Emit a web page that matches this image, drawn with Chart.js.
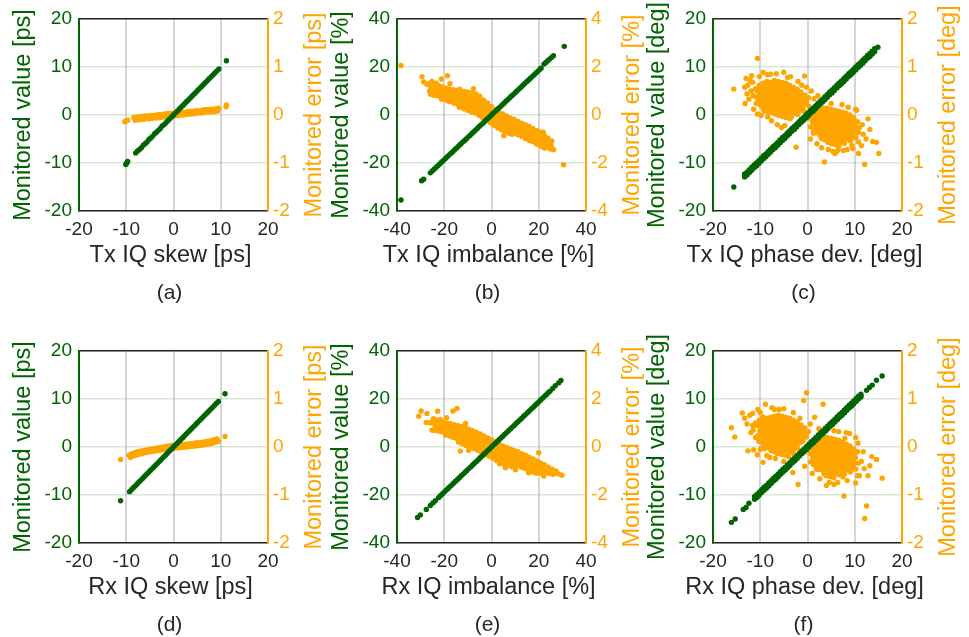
<!DOCTYPE html>
<html>
<head>
<meta charset="utf-8">
<title>IQ impairment monitoring</title>
<script src="https://cdn.jsdelivr.net/npm/chart.js@4.4.1/dist/chart.umd.min.js"></script>
<style>
  html, body { margin: 0; padding: 0; background: #fff; }
  #figure { position: relative; width: 969px; height: 637px; overflow: hidden; }
  #figure canvas { position: absolute; }
  .caption {
    position: absolute; width: 80px; margin-left: -40px; text-align: center;
    font-family: "Liberation Sans", Arial, sans-serif; font-size: 21px; line-height: 24px; color: #262626;
  }
</style>
</head>
<body>
<div id="figure"></div>
<script>
// ---- axis text ----
const captions = ['(a)', '(b)', '(c)', '(d)', '(e)', '(f)'];
const xTitles = ['Tx IQ skew [ps]', 'Tx IQ imbalance [%]', 'Tx IQ phase dev. [deg]',
                 'Rx IQ skew [ps]', 'Rx IQ imbalance [%]', 'Rx IQ phase dev. [deg]'];
const valueTitles = ['Monitored value [ps]', 'Monitored value [%]', 'Monitored value [deg]',
                     'Monitored value [ps]', 'Monitored value [%]', 'Monitored value [deg]'];
const errorTitles = ['Monitored error [ps]', 'Monitored error [%]', 'Monitored error [deg]',
                     'Monitored error [ps]', 'Monitored error [%]', 'Monitored error [deg]'];
// axis limits (x and left axis share them), right axis limits
const valueLimits = [20, 40, 20, 20, 40, 20];
const errorLimits = [2, 4, 2, 2, 4, 2];

// ---- (a) Tx IQ skew ----
const txSkewValue = [
  [-10.1,-10.3],[-9.9,-10.0],[-9.7,-9.7],
  [-8.0,-7.9],[-7.6,-7.5],[-7.2,-7.2],[-6.8,-6.8],[-6.4,-6.3],[-6.0,-6.0],[-5.6,-5.6],[-5.2,-5.1],
  [-4.8,-4.8],[-4.4,-4.4],[-4.0,-3.9],[-3.6,-3.6],[-3.2,-3.2],[-2.8,-2.8],[-2.4,-2.3],[-2.0,-2.0],
  [-1.6,-1.6],[-1.2,-1.2],[-0.8,-0.8],[-0.4,-0.4],[0.0,0.0],[0.4,0.4],[0.8,0.8],[1.2,1.2],[1.6,1.6],
  [2.0,2.0],[2.4,2.4],[2.8,2.8],[3.2,3.2],[3.6,3.6],[4.0,4.0],[4.4,4.4],[4.8,4.8],[5.2,5.2],[5.6,5.6],
  [6.0,6.0],[6.4,6.4],[6.8,6.8],[7.2,7.2],[7.6,7.6],[8.0,8.0],[8.4,8.4],[8.8,8.8],[9.2,9.2],[9.6,9.6],
  [11.2,11.3]
];
const txSkewError = [
  [-10.3,-0.14],[-10.0,-0.12],[-9.7,-0.11],
  [-8.4,-0.05],[-7.8,-0.04],[-7.2,-0.04],[-6.6,-0.03],[-6.0,-0.02],[-5.4,-0.02],[-4.8,-0.01],[-4.2,-0.01],
  [-3.6,0.0],[-3.0,0.01],[-2.4,0.01],[-1.8,0.02],[-1.2,0.03],[-0.6,0.03],[0.0,0.04],[0.6,0.05],[1.2,0.05],
  [1.8,0.06],[2.4,0.06],[3.0,0.07],[3.6,0.08],[4.2,0.08],[4.8,0.09],[5.4,0.09],[6.0,0.1],[6.6,0.11],
  [7.2,0.11],[7.8,0.12],[8.4,0.12],[9.0,0.13],[9.6,0.14],
  [-8.1,-0.11],[-7.5,-0.1],[-6.9,-0.1],[-6.3,-0.09],[-5.7,-0.08],[-5.1,-0.08],[-4.5,-0.07],[-3.9,-0.06],
  [-3.3,-0.06],[-2.7,-0.05],[-2.1,-0.04],[-1.5,-0.04],[-0.9,-0.03],[-0.3,-0.02],[0.3,-0.02],[0.9,-0.01],
  [1.5,0.0],[2.1,0.0],[2.7,0.01],[3.3,0.02],[3.9,0.02],[4.5,0.03],[5.1,0.04],[5.7,0.04],[6.3,0.05],
  [6.9,0.06],[7.5,0.06],[8.1,0.07],[8.7,0.07],[9.3,0.08],
  [11.1,0.17],[11.2,0.21]
];

// ---- (b) Tx IQ imbalance ----
const txImbValue = [
  [-38.3,-35.4],[-29.6,-27.4],[-28.7,-26.8],
  [-25.9,-24.1],[-25.1,-23.3],[-24.3,-22.6],[-23.5,-21.9],[-22.7,-21.1],[-21.9,-20.4],[-21.1,-19.6],
  [-20.3,-18.9],[-19.5,-18.1],[-18.7,-17.4],[-17.9,-16.6],[-17.1,-15.9],[-16.3,-15.2],[-15.5,-14.4],
  [-14.7,-13.7],[-13.9,-12.9],[-13.1,-12.2],[-12.3,-11.4],[-11.5,-10.7],[-10.7,-10.0],[-9.9,-9.2],
  [-9.1,-8.5],[-8.3,-7.7],[-7.5,-7.0],[-6.7,-6.2],[-5.9,-5.5],[-5.1,-4.7],[-4.3,-4.0],[-3.5,-3.3],
  [-2.7,-2.5],[-1.9,-1.8],[-1.1,-1.0],[-0.3,-0.3],[0.5,0.5],[1.3,1.2],[2.1,2.0],[2.9,2.7],[3.7,3.4],
  [4.5,4.2],[5.3,4.9],[6.1,5.7],[6.9,6.4],[7.7,7.2],[8.5,7.9],[9.3,8.6],[10.1,9.4],[10.9,10.1],
  [11.7,10.9],[12.5,11.6],[13.3,12.4],[14.1,13.1],[14.9,13.9],[15.7,14.6],[16.5,15.3],[17.3,16.1],
  [18.1,16.8],[18.9,17.6],[19.7,18.3],[20.5,19.1],[21.0,19.5],
  [22.2,21.2],[23.0,21.9],[23.8,22.6],[24.6,23.3],[25.4,24.0],[26.2,24.7],
  [30.8,28.6]
];
const txImbError = [
  [-38.3,2.06],[-29.4,1.6],[-28.7,1.38],[-27.4,1.28],[-25.2,1.4],[-21.2,1.5],[-18.6,1.64],[-17.6,1.3],
  [-23.4,1.32],[30.5,-2.07],[26.3,-1.45],[25.0,-1.38],[24.2,-1.1],[5.2,-0.86],[8.7,-0.8],[-7.6,1.1],
  [-13.5,1.08],[21.9,-0.72],
  [-26.3,1.3],[-25.7,1.15],[-26.2,1.0],[-25.8,0.86],
  [-24.1,1.25],[-24.8,1.1],[-24.2,0.95],[-24.6,0.82],
  [-22.5,1.22],[-23.1,1.08],[-22.4,0.94],[-23.0,0.8],
  [-21.0,1.18],[-21.6,1.04],[-20.9,0.9],[-21.5,0.76],[-21.1,0.66],
  [-19.3,1.12],[-19.9,0.98],[-19.4,0.85],[-19.8,0.72],[-19.2,0.62],
  [-17.8,1.08],[-18.3,0.95],[-17.6,0.82],[-18.4,0.68],[-17.9,0.56],
  [-16.1,1.05],[-16.7,0.92],[-16.2,0.78],[-16.6,0.64],[-16.0,0.5],
  [-14.5,1.02],[-15.1,0.88],[-14.6,0.74],[-15.0,0.6],[-14.4,0.46],
  [-13.0,1.0],[-13.5,0.85],[-12.9,0.7],[-13.4,0.56],[-13.1,0.42],[-13.6,0.32],
  [-11.3,0.98],[-11.9,0.82],[-11.4,0.66],[-11.8,0.52],[-11.2,0.38],[-11.7,0.26],
  [-9.7,0.95],[-10.3,0.8],[-9.8,0.64],[-10.2,0.48],[-9.6,0.34],[-10.1,0.2],
  [-8.1,0.92],[-8.7,0.76],[-8.2,0.6],[-8.6,0.44],[-8.0,0.28],[-8.5,0.12],
  [-6.5,0.88],[-7.1,0.72],[-6.6,0.56],[-7.0,0.4],[-6.4,0.24],[-6.9,0.08],
  [-4.9,0.78],[-5.5,0.62],[-5.0,0.46],[-5.4,0.3],[-4.8,0.14],[-5.3,-0.02],
  [-3.3,0.62],[-3.9,0.48],[-3.4,0.32],[-3.8,0.16],[-3.2,0.02],[-3.7,-0.12],
  [-1.7,0.5],[-2.3,0.36],[-1.8,0.2],[-2.2,0.06],[-1.6,-0.08],[-2.1,-0.2],
  [-0.1,0.36],[-0.7,0.22],[-0.2,0.08],[-0.6,-0.06],[0.0,-0.2],[-0.5,-0.32],
  [1.5,0.22],[0.9,0.08],[1.4,-0.06],[1.0,-0.2],[1.6,-0.34],[1.1,-0.44],
  [3.1,0.12],[2.5,-0.02],[3.0,-0.16],[2.6,-0.3],[3.2,-0.44],[2.7,-0.54],
  [4.7,0.04],[4.1,-0.1],[4.6,-0.24],[4.2,-0.38],[4.8,-0.52],[4.3,-0.62],
  [6.3,-0.04],[5.7,-0.18],[6.2,-0.32],[5.8,-0.46],[6.4,-0.6],[5.9,-0.7],
  [7.9,-0.12],[7.3,-0.26],[7.8,-0.4],[7.4,-0.54],[8.0,-0.68],[7.5,-0.76],
  [9.5,-0.18],[8.9,-0.32],[9.4,-0.46],[9.0,-0.6],[9.6,-0.74],
  [11.1,-0.26],[10.5,-0.4],[11.0,-0.54],[10.6,-0.68],[11.2,-0.82],
  [12.7,-0.34],[12.1,-0.48],[12.6,-0.62],[12.2,-0.76],[12.8,-0.9],
  [14.3,-0.4],[13.7,-0.54],[14.2,-0.68],[13.8,-0.82],[14.4,-0.98],
  [15.9,-0.48],[15.3,-0.62],[15.8,-0.76],[15.4,-0.9],[16.0,-1.06],
  [17.5,-0.56],[16.9,-0.7],[17.4,-0.84],[17.0,-0.98],[17.6,-1.12],
  [19.1,-0.64],[18.5,-0.78],[19.0,-0.92],[18.6,-1.06],[19.2,-1.22],
  [20.7,-0.72],[20.1,-0.86],[20.6,-1.0],[20.2,-1.14],[20.8,-1.3],
  [22.3,-0.84],[21.7,-0.98],[22.2,-1.12],[21.8,-1.26],[22.4,-1.38],
  [23.9,-0.96],[23.3,-1.1],[23.8,-1.24],[23.4,-1.36],
  [25.5,-1.08],[24.9,-1.2],[25.4,-1.32],[25.0,-1.42]
];

// ---- (c) Tx IQ phase deviation ----
const txPhaseValue = [
  [-15.6,-15.0],
  [-13.3,-12.3],[-12.8,-12.5],[-12.3,-11.4],[-11.8,-11.5],[-11.3,-10.4],[-10.8,-10.6],[-10.3,-9.5],
  [-9.8,-9.6],[-9.3,-8.5],[-8.8,-8.7],[-8.3,-7.6],[-7.8,-7.7],[-7.3,-6.6],[-6.8,-6.8],[-6.3,-5.7],
  [-5.8,-5.8],[-5.3,-4.7],[-4.8,-4.9],[-4.3,-3.8],[-3.8,-3.9],[-3.3,-2.8],[-2.8,-3.0],[-2.3,-1.9],
  [-1.8,-2.0],[-1.3,-0.9],[-0.8,-1.1],[-0.3,0.0],[0.2,-0.1],[0.7,1.0],[1.2,0.8],[1.7,1.9],[2.2,1.8],
  [2.7,2.9],[3.2,2.7],[3.7,3.8],[4.2,3.7],[4.7,4.8],[5.2,4.6],[5.7,5.7],[6.2,5.6],[6.7,6.7],[7.2,6.5],
  [7.7,7.6],[8.2,7.5],[8.7,8.6],[9.2,8.4],[9.7,9.5],[10.2,9.4],[10.7,10.5],[11.2,10.3],[11.7,11.4],
  [12.2,11.3],[12.7,12.4],[13.2,12.2],[13.7,13.3],[14.2,13.2],[14.9,14.1],
  [-13.3,-12.6],[-12.8,-12.2],[-12.3,-11.7],[-11.8,-11.2],[-11.3,-10.7],[-10.8,-10.3],[-10.3,-9.8],
  [-9.8,-9.3],[-9.3,-8.8],[-8.8,-8.4],[-8.3,-7.9],[-7.8,-7.4],[-7.3,-6.9],[-6.8,-6.5],[-6.3,-6.0],
  [-5.8,-5.5],[-5.3,-5.0],[-4.8,-4.6],[-4.3,-4.1],[-3.8,-3.6],[-3.3,-3.1],[-2.8,-2.7],[-2.3,-2.2],
  [-1.8,-1.7],[-1.3,-1.2],[-0.8,-0.8],[-0.3,-0.3],[0.2,0.2],[0.7,0.7],[1.2,1.1],[1.7,1.6],[2.2,2.1],
  [2.7,2.6],[3.2,3.0],[3.7,3.5],[4.2,4.0],[4.7,4.5],[5.2,4.9],[5.7,5.4],[6.2,5.9],[6.7,6.4],[7.2,6.8],
  [7.7,7.3],[8.2,7.8],[8.7,8.3],[9.2,8.7],[9.7,9.2],[10.2,9.7],[10.7,10.2],[11.2,10.6],[11.7,11.1],
  [12.2,11.6],[12.7,12.1],[13.2,12.5],[13.7,13.0],[14.2,13.5],
  [-13.3,-12.9],[-12.8,-11.9],[-12.3,-12.0],[-11.8,-10.9],[-11.3,-11.0],[-10.8,-10.0],[-10.3,-10.1],
  [-9.8,-9.0],[-9.3,-9.1],[-8.8,-8.1],[-8.3,-8.2],[-7.8,-7.1],[-7.3,-7.2],[-6.8,-6.2],[-6.3,-6.3],
  [-5.8,-5.2],[-5.3,-5.3],[-4.8,-4.3],[-4.3,-4.4],[-3.8,-3.3],[-3.3,-3.4],[-2.8,-2.4],[-2.3,-2.5],
  [-1.8,-1.4],[-1.3,-1.5],[-0.8,-0.5],[-0.3,-0.6],[0.2,0.5],[0.7,0.4],[1.2,1.4],[1.7,1.3],[2.2,2.4],
  [2.7,2.3],[3.2,3.3],[3.7,3.2],[4.2,4.3],[4.7,4.2],[5.2,5.2],[5.7,5.1],[6.2,6.2],[6.7,6.1],[7.2,7.1],
  [7.7,7.0],[8.2,8.1],[8.7,8.0],[9.2,9.0],[9.7,8.9],[10.2,10.0],[10.7,9.9],[11.2,10.9],[11.7,10.8],
  [12.2,11.9],[12.7,11.8],[13.2,12.8],[13.7,12.7],[14.2,13.8]
];
const txPhaseError = [
  [-10.6,1.18],[-15.6,0.54],[-13.0,0.76],[-13.3,0.58],[-13.2,0.24],[-12.1,0.72],[-11.6,0.68],[-10.8,0.37],
  [-9.4,0.89],[-8.5,0.84],[-5.0,0.89],[-3.6,0.8],[-0.6,0.81],[-1.2,0.62],[-9.8,-0.01],[-8.4,-0.04],
  [-5.5,-0.26],[-2.4,-0.67],[-11.9,0.5],[-12.4,0.33],[1.4,0.34],[2.2,0.4],[3.6,-0.98],[5.4,-0.76],
  [6.2,-0.76],[8.4,-0.72],[9.4,-0.64],[11.4,-0.64],[11.0,-0.26],[12.1,-1.03],[15.1,-0.8],[14.6,-0.57],
  [13.8,-0.55],[12.8,-0.08],[11.8,-0.4],[10.8,-0.8],[3.0,-0.68],[0.6,-0.5],[7.3,0.22],[10.4,0.1],[6.5,-0.72],
  [-12.6,0.62],[-11.8,0.82],[-10.2,0.8],[-7.8,0.85],[-6.6,0.86],[-4.2,0.78],[-2.0,0.7],[-0.2,0.58],
  [0.8,0.5],[-12.8,0.44],[-11.4,0.12],[-10.6,0.02],[-7.6,-0.12],[-6.4,-0.2],[-4.8,-0.22],[-3.2,-0.3],
  [2.0,-0.6],[4.4,-0.72],[5.8,-0.8],[7.6,-0.74],[9.6,-0.7],[10.8,-0.56],[11.6,-0.2],[10.2,0.12],
  [8.6,0.16],[5.0,0.24],[3.0,0.3],[12.4,-0.5],[13.2,-0.3],
  [-11.0,0.55],[-11.5,0.4],[-10.85,0.24],
  [-10.2,0.62],[-10.7,0.5],[-10.05,0.38],[-10.55,0.26],
  [-9.4,0.66],[-9.9,0.57],[-9.25,0.48],[-9.75,0.39],[-9.5,0.3],[-9.95,0.21],[-9.35,0.13],
  [-8.6,0.7],[-9.1,0.61],[-8.45,0.52],[-8.95,0.43],[-8.7,0.34],[-9.15,0.25],[-8.55,0.16],[-9.0,0.08],
  [-7.8,0.68],[-8.3,0.59],[-7.65,0.5],[-8.15,0.41],[-7.9,0.32],[-8.35,0.23],[-7.75,0.14],[-8.2,0.06],
  [-7.0,0.72],[-7.5,0.63],[-6.85,0.54],[-7.35,0.45],[-7.1,0.36],[-7.55,0.27],[-6.95,0.18],[-7.4,0.09],[-6.9,0.02],
  [-6.2,0.7],[-6.7,0.61],[-6.05,0.52],[-6.55,0.43],[-6.3,0.34],[-6.75,0.25],[-6.15,0.16],[-6.6,0.07],[-6.1,-0.01],
  [-5.4,0.68],[-5.9,0.59],[-5.25,0.5],[-5.75,0.41],[-5.5,0.32],[-5.95,0.23],[-5.35,0.14],[-5.8,0.05],[-5.3,-0.03],
  [-4.6,0.66],[-5.1,0.57],[-4.45,0.48],[-4.95,0.39],[-4.7,0.3],[-5.15,0.21],[-4.55,0.12],[-5.0,0.03],[-4.5,-0.05],
  [-3.8,0.62],[-4.3,0.53],[-3.65,0.44],[-4.15,0.35],[-3.9,0.26],[-4.35,0.17],[-3.75,0.08],[-4.2,-0.01],[-3.7,-0.08],
  [-3.0,0.58],[-3.5,0.49],[-2.85,0.4],[-3.35,0.31],[-3.1,0.22],[-3.55,0.13],[-2.95,0.04],[-3.4,-0.04],
  [-2.2,0.54],[-2.7,0.45],[-2.05,0.36],[-2.55,0.27],[-2.3,0.18],[-2.75,0.09],[-2.15,0.01],
  [-1.4,0.48],[-1.9,0.39],[-1.25,0.3],[-1.75,0.21],[-1.5,0.12],[-1.95,0.04],
  [-0.6,0.42],[-1.1,0.33],[-0.45,0.24],[-0.95,0.15],[-0.7,0.07],
  [0.2,0.36],[-0.3,0.27],[0.35,0.18],
  // upper lobe core
  [-10.0,0.6],[-9.9,0.51],[-10.1,0.42],[-10.0,0.33],[-9.9,0.24],
  [-9.2,0.65],[-9.1,0.56],[-9.3,0.47],[-9.2,0.38],[-9.1,0.29],[-9.3,0.2],[-9.2,0.11],
  [-8.4,0.65],[-8.3,0.56],[-8.5,0.47],[-8.4,0.38],[-8.3,0.29],[-8.5,0.2],[-8.4,0.11],
  [-7.6,0.68],[-7.5,0.59],[-7.7,0.5],[-7.6,0.41],[-7.5,0.32],[-7.7,0.23],[-7.6,0.14],[-7.5,0.05],
  [-6.8,0.66],[-6.7,0.57],[-6.9,0.48],[-6.8,0.39],[-6.7,0.3],[-6.9,0.21],[-6.8,0.12],[-6.7,0.03],
  [-6.0,0.64],[-5.9,0.55],[-6.1,0.46],[-6.0,0.37],[-5.9,0.28],[-6.1,0.19],[-6.0,0.1],[-5.9,0.01],
  [-5.2,0.62],[-5.1,0.53],[-5.3,0.44],[-5.2,0.35],[-5.1,0.26],[-5.3,0.17],[-5.2,0.08],[-5.1,-0.01],
  [-4.4,0.6],[-4.3,0.51],[-4.5,0.42],[-4.4,0.33],[-4.3,0.24],[-4.5,0.15],[-4.4,0.06],[-4.3,-0.03],
  [-3.6,0.56],[-3.5,0.47],[-3.7,0.38],[-3.6,0.29],[-3.5,0.2],[-3.7,0.11],[-3.6,0.02],
  [-2.8,0.52],[-2.7,0.43],[-2.9,0.34],[-2.8,0.25],[-2.7,0.16],[-2.9,0.07],
  [-2.0,0.46],[-1.9,0.37],[-2.1,0.28],[-2.0,0.19],[-1.9,0.1],
  [-1.2,0.4],[-1.1,0.31],[-1.3,0.22],[-1.2,0.13],
  [-0.4,0.32],[-0.3,0.23],
  [1.0,0.02],[0.5,-0.07],[1.15,-0.16],[0.65,-0.25],
  [1.8,0.06],[1.3,-0.03],[1.95,-0.12],[1.45,-0.21],[1.7,-0.3],[1.25,-0.38],
  [2.6,0.12],[2.1,0.03],[2.75,-0.06],[2.25,-0.15],[2.5,-0.24],[2.05,-0.33],[2.65,-0.42],
  [3.4,0.14],[2.9,0.05],[3.55,-0.04],[3.05,-0.13],[3.3,-0.22],[2.85,-0.31],[3.45,-0.4],[3.0,-0.49],
  [4.2,0.14],[3.7,0.05],[4.35,-0.04],[3.85,-0.13],[4.1,-0.22],[3.65,-0.31],[4.25,-0.4],[3.8,-0.49],[4.3,-0.57],
  [5.0,0.12],[4.5,0.03],[5.15,-0.06],[4.65,-0.15],[4.9,-0.24],[4.45,-0.33],[5.05,-0.42],[4.6,-0.51],[5.1,-0.6],
  [5.8,0.1],[5.3,0.01],[5.95,-0.08],[5.45,-0.17],[5.7,-0.26],[5.25,-0.35],[5.85,-0.44],[5.4,-0.53],[5.9,-0.62],
  [6.6,0.08],[6.1,-0.01],[6.75,-0.1],[6.25,-0.19],[6.5,-0.28],[6.05,-0.37],[6.65,-0.46],[6.2,-0.55],[6.7,-0.63],
  [7.4,0.06],[6.9,-0.03],[7.55,-0.12],[7.05,-0.21],[7.3,-0.3],[6.85,-0.39],[7.45,-0.48],[7.0,-0.57],
  [8.2,0.04],[7.7,-0.05],[8.35,-0.14],[7.85,-0.23],[8.1,-0.32],[7.65,-0.41],[8.25,-0.5],[7.8,-0.59],
  [9.0,0.0],[8.5,-0.09],[9.15,-0.18],[8.65,-0.27],[8.9,-0.36],[8.45,-0.45],[9.05,-0.54],
  [9.8,-0.06],[9.3,-0.15],[9.95,-0.24],[9.45,-0.33],[9.7,-0.42],[9.25,-0.5],
  [10.6,-0.14],[10.1,-0.25],[10.75,-0.36],[10.25,-0.47],
  // lower lobe core
  [1.2,0.04],[1.3,-0.05],[1.1,-0.14],[1.2,-0.23],[1.3,-0.32],
  [2.0,0.08],[2.1,-0.01],[1.9,-0.1],[2.0,-0.19],[2.1,-0.28],[1.9,-0.37],
  [2.8,0.1],[2.9,0.01],[2.7,-0.08],[2.8,-0.17],[2.9,-0.26],[2.7,-0.35],[2.8,-0.44],
  [3.6,0.1],[3.7,0.01],[3.5,-0.08],[3.6,-0.17],[3.7,-0.26],[3.5,-0.35],[3.6,-0.44],[3.7,-0.52],
  [4.4,0.09],[4.5,0.0],[4.3,-0.09],[4.4,-0.18],[4.5,-0.27],[4.3,-0.36],[4.4,-0.45],[4.5,-0.54],
  [5.2,0.07],[5.3,-0.02],[5.1,-0.11],[5.2,-0.2],[5.3,-0.29],[5.1,-0.38],[5.2,-0.47],[5.3,-0.56],
  [6.0,0.05],[6.1,-0.04],[5.9,-0.13],[6.0,-0.22],[6.1,-0.31],[5.9,-0.4],[6.0,-0.49],[6.1,-0.58],
  [6.8,0.03],[6.9,-0.06],[6.7,-0.15],[6.8,-0.24],[6.9,-0.33],[6.7,-0.42],[6.8,-0.51],[6.9,-0.58],
  [7.6,0.01],[7.7,-0.08],[7.5,-0.17],[7.6,-0.26],[7.7,-0.35],[7.5,-0.44],[7.6,-0.53],
  [8.4,-0.03],[8.5,-0.12],[8.3,-0.21],[8.4,-0.3],[8.5,-0.39],[8.3,-0.48],
  [9.2,-0.08],[9.3,-0.17],[9.1,-0.26],[9.2,-0.35],[9.3,-0.44],
  [10.0,-0.14],[10.1,-0.23],[9.9,-0.32],[10.0,-0.41]
];

// ---- (d) Rx IQ skew ----
const rxSkewValue = [
  [-11.2,-11.2],
  [-9.3,-9.3],[-8.9,-8.9],[-8.5,-8.5],[-8.1,-8.1],[-7.7,-7.7],[-7.3,-7.3],[-6.9,-6.9],[-6.5,-6.5],
  [-6.1,-6.1],[-5.7,-5.7],[-5.3,-5.3],[-4.9,-4.9],[-4.5,-4.5],[-4.1,-4.1],[-3.7,-3.7],[-3.3,-3.3],
  [-2.9,-2.9],[-2.5,-2.5],[-2.1,-2.1],[-1.7,-1.7],[-1.3,-1.3],[-0.9,-0.9],[-0.5,-0.5],[-0.1,-0.1],
  [0.3,0.3],[0.7,0.7],[1.1,1.1],[1.5,1.5],[1.9,1.9],[2.3,2.3],[2.7,2.7],[3.1,3.1],[3.5,3.5],[3.9,3.9],
  [4.3,4.3],[4.7,4.7],[5.1,5.1],[5.5,5.5],[5.9,5.9],[6.3,6.3],[6.7,6.7],[7.1,7.1],[7.5,7.5],[7.9,7.9],
  [8.3,8.3],[8.7,8.7],[9.1,9.1],[9.5,9.5],
  [10.9,11.1]
];
const rxSkewError = [
  [-11.2,-0.26],
  [-9.4,-0.17],[-8.8,-0.14],[-8.2,-0.12],[-7.6,-0.1],[-7.0,-0.09],[-6.4,-0.07],[-5.8,-0.06],[-5.2,-0.05],
  [-4.6,-0.04],[-4.0,-0.03],[-3.4,-0.02],[-2.8,-0.01],[-2.2,0.0],[-1.6,0.01],[-1.0,0.02],[-0.4,0.03],
  [0.2,0.03],[0.8,0.04],[1.4,0.05],[2.0,0.055],[2.6,0.06],[3.2,0.07],[3.8,0.07],[4.4,0.08],[5.0,0.09],
  [5.6,0.09],[6.2,0.1],[6.8,0.11],[7.4,0.12],[8.0,0.135],[8.6,0.15],[9.2,0.17],
  [-9.1,-0.22],[-8.5,-0.19],[-7.9,-0.17],[-7.3,-0.15],[-6.7,-0.14],[-6.1,-0.12],[-5.5,-0.11],[-4.9,-0.1],
  [-4.3,-0.09],[-3.7,-0.08],[-3.1,-0.07],[-2.5,-0.06],[-1.9,-0.05],[-1.3,-0.04],[-0.7,-0.035],[-0.1,-0.03],
  [0.5,-0.02],[1.1,-0.015],[1.7,-0.01],[2.3,0.0],[2.9,0.0],[3.5,0.01],[4.1,0.015],[4.7,0.02],[5.3,0.03],
  [5.9,0.035],[6.5,0.045],[7.1,0.055],[7.7,0.065],[8.3,0.08],[8.9,0.1],[9.5,0.12],
  [10.9,0.22]
];

// ---- (e) Rx IQ imbalance ----
const rxImbValue = [
  [-31.3,-29.4],[-30.1,-28.3],[-27.6,-26.0],[-25.9,-24.4],[-24.8,-23.3],[-23.8,-22.4],
  [-22.4,-21.1],[-21.6,-20.3],[-20.8,-19.6],[-20.0,-18.8],[-19.2,-18.0],[-18.4,-17.3],[-17.6,-16.5],
  [-16.8,-15.8],[-16.0,-15.0],[-15.2,-14.3],[-14.4,-13.5],[-13.6,-12.8],[-12.8,-12.0],[-12.0,-11.3],
  [-11.2,-10.5],[-10.4,-9.8],[-9.6,-9.0],[-8.8,-8.3],[-8.0,-7.5],[-7.2,-6.8],[-6.4,-6.0],[-5.6,-5.3],
  [-4.8,-4.5],[-4.0,-3.8],[-3.2,-3.0],[-2.4,-2.3],[-1.6,-1.5],[-0.8,-0.8],[0.0,0.0],[0.8,0.8],
  [1.6,1.5],[2.4,2.3],[3.2,3.0],[4.0,3.8],[4.8,4.5],[5.6,5.3],[6.4,6.0],[7.2,6.8],[8.0,7.5],[8.8,8.3],
  [9.6,9.0],[10.4,9.8],[11.2,10.5],[12.0,11.3],[12.8,12.0],[13.6,12.8],[14.4,13.5],[15.2,14.3],
  [16.0,15.0],[16.8,15.8],[17.6,16.5],[18.4,17.3],[19.2,18.0],[20.0,18.8],[20.8,19.6],[21.6,20.3],
  [22.4,21.1],[23.2,21.8],[24.0,22.6],[24.8,23.3],
  [25.9,24.4],[27.0,25.5],[28.4,26.7],[29.4,27.7]
];
const rxImbError = [
  [-30.8,1.28],[-29.8,1.5],[-27.3,1.4],[-22.8,1.49],[-16.3,1.5],[-14.6,1.61],[-25.9,1.01],[-27.6,1.02],
  [-25.2,0.71],[-21.7,1.15],[-13.2,-0.17],[-9.7,-0.14],[5.9,-0.86],[15.7,-1.07],[22.1,-1.21],[20.0,-0.24],
  [28.4,-1.12],[29.8,-1.18],[10.2,-0.95],[3.4,-0.7],[-24.6,1.18],[-19.0,1.22],[-11.0,0.98],
  [-24.0,1.15],[-25.0,1.0],[-23.7,0.85],[-24.7,0.7],
  [-22.4,1.1],[-23.4,0.96],[-22.1,0.82],[-23.1,0.68],
  [-20.8,1.05],[-21.8,0.92],[-20.5,0.78],[-21.5,0.64],
  [-19.2,1.0],[-20.2,0.88],[-18.9,0.74],[-19.9,0.6],[-19.4,0.5],
  [-17.6,0.98],[-18.6,0.84],[-17.3,0.7],[-18.3,0.56],[-17.8,0.46],
  [-16.0,0.94],[-17.0,0.8],[-15.7,0.66],[-16.7,0.52],[-16.2,0.4],
  [-14.4,0.9],[-15.4,0.76],[-14.1,0.62],[-15.1,0.48],[-14.6,0.34],
  [-12.8,0.86],[-13.8,0.72],[-12.5,0.58],[-13.5,0.44],[-13.0,0.3],[-13.9,0.2],
  [-11.2,0.8],[-12.2,0.66],[-10.9,0.52],[-11.9,0.38],[-11.4,0.24],[-12.3,0.14],
  [-9.6,0.74],[-10.6,0.6],[-9.3,0.46],[-10.3,0.32],[-9.8,0.18],[-10.7,0.06],
  [-8.0,0.68],[-9.0,0.54],[-7.7,0.4],[-8.7,0.26],[-8.2,0.12],[-9.1,0.0],
  [-6.4,0.62],[-7.4,0.48],[-6.1,0.34],[-7.1,0.2],[-6.6,0.06],[-7.5,-0.06],
  [-4.8,0.54],[-5.8,0.4],[-4.5,0.26],[-5.5,0.12],[-5.0,-0.02],[-5.9,-0.14],
  [-3.2,0.46],[-4.2,0.32],[-2.9,0.18],[-3.9,0.04],[-3.4,-0.1],[-4.3,-0.22],
  [-1.6,0.38],[-2.6,0.24],[-1.3,0.1],[-2.3,-0.04],[-1.8,-0.18],[-2.7,-0.3],
  [0.0,0.3],[-1.0,0.16],[0.3,0.02],[-0.7,-0.12],[-0.2,-0.26],[-1.1,-0.38],
  [1.6,0.2],[0.6,0.06],[1.9,-0.08],[0.9,-0.22],[1.4,-0.36],[0.5,-0.46],
  [3.2,0.12],[2.2,-0.02],[3.5,-0.16],[2.5,-0.3],[3.0,-0.44],[2.1,-0.56],
  [4.8,0.04],[3.8,-0.1],[5.1,-0.24],[4.1,-0.38],[4.6,-0.52],[3.7,-0.64],
  [6.4,-0.02],[5.4,-0.16],[6.7,-0.3],[5.7,-0.44],[6.2,-0.58],[5.3,-0.7],
  [8.0,-0.08],[7.0,-0.22],[8.3,-0.36],[7.3,-0.5],[7.8,-0.64],[6.9,-0.76],
  [9.6,-0.14],[8.6,-0.28],[9.9,-0.42],[8.9,-0.56],[9.4,-0.7],[8.5,-0.82],
  [11.2,-0.2],[10.2,-0.34],[11.5,-0.48],[10.5,-0.62],[11.0,-0.76],[10.1,-0.88],
  [12.8,-0.28],[11.8,-0.42],[13.1,-0.56],[12.1,-0.7],[12.6,-0.84],
  [14.4,-0.34],[13.4,-0.48],[14.7,-0.62],[13.7,-0.76],[14.2,-0.9],
  [16.0,-0.42],[15.0,-0.56],[16.3,-0.7],[15.3,-0.84],[15.8,-0.98],
  [17.6,-0.5],[16.6,-0.64],[17.9,-0.78],[16.9,-0.92],[17.4,-1.04],
  [19.2,-0.58],[18.2,-0.72],[19.5,-0.86],[18.5,-1.0],[19.0,-1.1],
  [20.8,-0.66],[19.8,-0.8],[21.1,-0.94],[20.1,-1.08],
  [22.4,-0.74],[21.4,-0.88],[22.7,-1.02],[21.7,-1.14],
  [24.0,-0.84],[23.0,-0.98],[24.3,-1.1],
  [25.6,-0.92],[24.6,-1.04],[25.9,-1.14],
  [27.2,-1.0],[26.4,-1.12]
];

// ---- (f) Rx IQ phase deviation ----
const rxPhaseValue = [
  [-16.1,-15.7],[-15.3,-15.0],[-13.6,-13.0],[-13.0,-12.6],[-12.4,-11.7],
  [-11.2,-10.3],[-10.7,-10.5],[-10.2,-9.4],[-9.7,-9.5],[-9.2,-8.4],[-8.7,-8.6],[-8.2,-7.5],[-7.7,-7.6],
  [-7.2,-6.5],[-6.7,-6.7],[-6.2,-5.6],[-5.7,-5.7],[-5.2,-4.6],[-4.7,-4.8],[-4.2,-3.7],[-3.7,-3.8],
  [-3.2,-2.7],[-2.7,-2.9],[-2.2,-1.8],[-1.7,-1.9],[-1.2,-0.8],[-0.7,-1.0],[-0.2,0.1],[0.3,0.0],
  [0.8,1.1],[1.3,0.9],[1.8,2.0],[2.3,1.9],[2.8,3.0],[3.3,2.8],[3.8,3.9],[4.3,3.8],[4.8,4.9],[5.3,4.7],
  [5.8,5.8],[6.3,5.7],[6.8,6.8],[7.3,6.6],[7.8,7.7],[8.3,7.6],[8.8,8.7],[9.3,8.5],[9.8,9.6],[10.3,9.5],
  [10.8,10.6],[11.3,10.4],
  [-11.2,-10.6],[-10.7,-10.2],[-10.2,-9.7],[-9.7,-9.2],[-9.2,-8.7],[-8.7,-8.3],[-8.2,-7.8],[-7.7,-7.3],
  [-7.2,-6.8],[-6.7,-6.4],[-6.2,-5.9],[-5.7,-5.4],[-5.2,-4.9],[-4.7,-4.5],[-4.2,-4.0],[-3.7,-3.5],
  [-3.2,-3.0],[-2.7,-2.6],[-2.2,-2.1],[-1.7,-1.6],[-1.2,-1.1],[-0.7,-0.7],[-0.2,-0.2],[0.3,0.3],
  [0.8,0.8],[1.3,1.2],[1.8,1.7],[2.3,2.2],[2.8,2.7],[3.3,3.1],[3.8,3.6],[4.3,4.1],[4.8,4.6],[5.3,5.0],
  [5.8,5.5],[6.3,6.0],[6.8,6.5],[7.3,6.9],[7.8,7.4],[8.3,7.9],[8.8,8.4],[9.3,8.8],[9.8,9.3],[10.3,9.8],
  [10.8,10.3],[11.3,10.7],
  [-11.2,-10.9],[-10.7,-9.9],[-10.2,-10.0],[-9.7,-8.9],[-9.2,-9.0],[-8.7,-8.0],[-8.2,-8.1],[-7.7,-7.0],
  [-7.2,-7.1],[-6.7,-6.1],[-6.2,-6.2],[-5.7,-5.1],[-5.2,-5.2],[-4.7,-4.2],[-4.2,-4.3],[-3.7,-3.2],
  [-3.2,-3.3],[-2.7,-2.3],[-2.2,-2.4],[-1.7,-1.3],[-1.2,-1.4],[-0.7,-0.4],[-0.2,-0.5],[0.3,0.6],
  [0.8,0.5],[1.3,1.5],[1.8,1.4],[2.3,2.5],[2.8,2.4],[3.3,3.4],[3.8,3.3],[4.3,4.4],[4.8,4.3],[5.3,5.3],
  [5.8,5.2],[6.3,6.3],[6.8,6.2],[7.3,7.2],[7.8,7.1],[8.3,8.2],[8.8,8.1],[9.3,9.1],[9.8,9.0],[10.3,10.1],
  [10.8,10.0],[11.3,11.0],
  [12.5,11.8],[13.1,12.4],[13.7,12.9],[14.6,13.9],[15.8,14.8]
];
const rxPhaseError = [
  [-16.1,0.4],[-15.4,0.21],[-13.8,0.71],[-13.3,0.6],[-12.2,0.66],[-12.6,-0.08],[-8.9,0.89],[-10.5,0.78],
  [-11.6,0.45],[-7.5,0.82],[-6.0,0.78],[-0.2,1.13],[-0.8,0.97],[3.3,0.89],[1.5,0.62],[-9.4,-0.32],
  [-8.0,-0.22],[-3.1,-0.53],[-2.0,-0.78],[7.7,-1.02],[12.5,-1.23],[12.1,-1.49],[15.8,-0.65],[14.6,-0.26],
  [13.2,-0.39],[10.7,0.08],[8.9,0.28],[7.9,0.18],[11.0,-0.6],[10.2,-0.75],[5.6,-0.78],[4.0,-0.8],
  [6.6,0.32],[-0.6,-0.4],[12.0,-0.45],[-11.0,0.2],[-10.0,-0.05],
  [-12.8,0.48],[-12.0,0.3],[-11.6,0.7],[-10.0,0.72],[-7.0,0.78],[-5.0,0.8],[-3.0,0.72],[-1.6,0.6],
  [0.6,0.48],[-11.4,-0.06],[-10.6,-0.16],[-8.6,-0.18],[-6.8,-0.24],[-5.0,-0.3],[-3.6,-0.32],[1.0,-0.55],
  [2.6,-0.66],[4.6,-0.74],[6.4,-0.74],[8.4,-0.7],[10.6,-0.6],[11.4,-0.3],[11.8,-0.1],[10.2,0.2],
  [8.2,0.3],[5.6,0.34],[4.0,0.36],[2.4,0.38],[12.8,-0.6],[13.6,-0.2],
  [-11.0,0.5],[-11.5,0.35],[-10.85,0.2],
  [-10.2,0.56],[-10.7,0.45],[-10.05,0.34],[-10.55,0.23],[-10.3,0.12],
  [-9.4,0.62],[-9.9,0.52],[-9.25,0.42],[-9.75,0.32],[-9.5,0.22],[-9.95,0.12],[-9.35,0.02],
  [-8.6,0.6],[-9.1,0.51],[-8.45,0.42],[-8.95,0.33],[-8.7,0.24],[-9.15,0.15],[-8.55,0.06],[-9.0,-0.03],
  [-7.8,0.62],[-8.3,0.53],[-7.65,0.44],[-8.15,0.35],[-7.9,0.26],[-8.35,0.17],[-7.75,0.08],[-8.2,-0.01],[-7.7,-0.08],
  [-7.0,0.64],[-7.5,0.55],[-6.85,0.46],[-7.35,0.37],[-7.1,0.28],[-7.55,0.19],[-6.95,0.1],[-7.4,0.01],[-6.9,-0.08],
  [-6.2,0.66],[-6.7,0.57],[-6.05,0.48],[-6.55,0.39],[-6.3,0.3],[-6.75,0.21],[-6.15,0.12],[-6.6,0.03],[-6.1,-0.06],[-6.45,-0.13],
  [-5.4,0.64],[-5.9,0.55],[-5.25,0.46],[-5.75,0.37],[-5.5,0.28],[-5.95,0.19],[-5.35,0.1],[-5.8,0.01],[-5.3,-0.08],[-5.65,-0.15],
  [-4.6,0.62],[-5.1,0.53],[-4.45,0.44],[-4.95,0.35],[-4.7,0.26],[-5.15,0.17],[-4.55,0.08],[-5.0,-0.01],[-4.5,-0.1],[-4.85,-0.17],
  [-3.8,0.6],[-4.3,0.51],[-3.65,0.42],[-4.15,0.33],[-3.9,0.24],[-4.35,0.15],[-3.75,0.06],[-4.2,-0.03],[-3.7,-0.12],[-4.05,-0.2],
  [-3.0,0.56],[-3.5,0.47],[-2.85,0.38],[-3.35,0.29],[-3.1,0.2],[-3.55,0.11],[-2.95,0.02],[-3.4,-0.07],[-2.9,-0.14],
  [-2.2,0.52],[-2.7,0.43],[-2.05,0.34],[-2.55,0.25],[-2.3,0.16],[-2.75,0.07],[-2.15,-0.02],
  [-1.4,0.46],[-1.9,0.37],[-1.25,0.28],[-1.75,0.19],[-1.5,0.1],
  [-0.6,0.4],[-1.1,0.31],[-0.45,0.22],[-0.95,0.13],
  [0.2,0.32],[-0.3,0.23],
  // upper lobe core
  [-10.0,0.52],[-9.9,0.42],[-10.1,0.32],[-10.0,0.22],[-9.9,0.12],
  [-9.2,0.57],[-9.1,0.47],[-9.3,0.37],[-9.2,0.27],[-9.1,0.17],[-9.3,0.07],
  [-8.4,0.57],[-8.3,0.48],[-8.5,0.39],[-8.4,0.3],[-8.3,0.21],[-8.5,0.12],[-8.4,0.03],
  [-7.6,0.59],[-7.5,0.5],[-7.7,0.41],[-7.6,0.32],[-7.5,0.23],[-7.7,0.14],[-7.6,0.05],[-7.5,-0.04],
  [-6.8,0.61],[-6.7,0.52],[-6.9,0.43],[-6.8,0.34],[-6.7,0.25],[-6.9,0.16],[-6.8,0.07],[-6.7,-0.02],[-6.9,-0.1],
  [-6.0,0.61],[-5.9,0.52],[-6.1,0.43],[-6.0,0.34],[-5.9,0.25],[-6.1,0.16],[-6.0,0.07],[-5.9,-0.02],[-6.1,-0.1],
  [-5.2,0.59],[-5.1,0.5],[-5.3,0.41],[-5.2,0.32],[-5.1,0.23],[-5.3,0.14],[-5.2,0.05],[-5.1,-0.04],[-5.3,-0.12],
  [-4.4,0.57],[-4.3,0.48],[-4.5,0.39],[-4.4,0.3],[-4.3,0.21],[-4.5,0.12],[-4.4,0.03],[-4.3,-0.06],[-4.5,-0.14],
  [-3.6,0.54],[-3.5,0.45],[-3.7,0.36],[-3.6,0.27],[-3.5,0.18],[-3.7,0.09],[-3.6,0.0],[-3.5,-0.09],
  [-2.8,0.5],[-2.7,0.41],[-2.9,0.32],[-2.8,0.23],[-2.7,0.14],[-2.9,0.05],[-2.8,-0.04],
  [-2.0,0.44],[-1.9,0.35],[-2.1,0.26],[-2.0,0.17],[-1.9,0.08],
  [-1.2,0.38],[-1.1,0.29],[-1.3,0.2],[-1.2,0.11],
  [-0.4,0.3],[-0.3,0.21],
  [1.0,-0.04],[0.5,-0.13],[1.15,-0.22],[0.65,-0.31],
  [1.8,0.08],[1.3,-0.01],[1.95,-0.1],[1.45,-0.19],[1.7,-0.28],[1.25,-0.37],[1.85,-0.46],
  [2.6,0.16],[2.1,0.07],[2.75,-0.02],[2.25,-0.11],[2.5,-0.2],[2.05,-0.29],[2.65,-0.38],[2.2,-0.47],
  [3.4,0.2],[2.9,0.11],[3.55,0.02],[3.05,-0.07],[3.3,-0.16],[2.85,-0.25],[3.45,-0.34],[3.0,-0.43],[3.5,-0.52],
  [4.2,0.2],[3.7,0.11],[4.35,0.02],[3.85,-0.07],[4.1,-0.16],[3.65,-0.25],[4.25,-0.34],[3.8,-0.43],[4.3,-0.52],[3.95,-0.6],
  [5.0,0.18],[4.5,0.09],[5.15,0.0],[4.65,-0.09],[4.9,-0.18],[4.45,-0.27],[5.05,-0.36],[4.6,-0.45],[5.1,-0.54],[4.75,-0.62],
  [5.8,0.16],[5.3,0.07],[5.95,-0.02],[5.45,-0.11],[5.7,-0.2],[5.25,-0.29],[5.85,-0.38],[5.4,-0.47],[5.9,-0.56],[5.55,-0.64],
  [6.6,0.14],[6.1,0.05],[6.75,-0.04],[6.25,-0.13],[6.5,-0.22],[6.05,-0.31],[6.65,-0.4],[6.2,-0.49],[6.7,-0.58],
  [7.4,0.1],[6.9,0.01],[7.55,-0.08],[7.05,-0.17],[7.3,-0.26],[6.85,-0.35],[7.45,-0.44],[7.0,-0.53],[7.5,-0.62],
  [8.2,0.06],[7.7,-0.03],[8.35,-0.12],[7.85,-0.21],[8.1,-0.3],[7.65,-0.39],[8.25,-0.48],[7.8,-0.57],
  [9.0,0.02],[8.5,-0.07],[9.15,-0.16],[8.65,-0.25],[8.9,-0.34],[8.45,-0.43],[9.05,-0.52],
  [9.8,-0.04],[9.3,-0.13],[9.95,-0.22],[9.45,-0.31],[9.7,-0.4],[9.25,-0.48],
  [10.6,-0.1],[10.1,-0.22],[10.75,-0.34],[10.25,-0.46],
  // lower lobe core
  [1.2,0.02],[1.3,-0.07],[1.1,-0.16],[1.2,-0.25],[1.3,-0.34],
  [2.0,0.12],[2.1,0.03],[1.9,-0.06],[2.0,-0.15],[2.1,-0.24],[1.9,-0.33],[2.0,-0.42],
  [2.8,0.16],[2.9,0.07],[2.7,-0.02],[2.8,-0.11],[2.9,-0.2],[2.7,-0.29],[2.8,-0.38],[2.9,-0.47],
  [3.6,0.16],[3.7,0.07],[3.5,-0.02],[3.6,-0.11],[3.7,-0.2],[3.5,-0.29],[3.6,-0.38],[3.7,-0.47],[3.5,-0.56],
  [4.4,0.15],[4.5,0.06],[4.3,-0.03],[4.4,-0.12],[4.5,-0.21],[4.3,-0.3],[4.4,-0.39],[4.5,-0.48],[4.3,-0.57],
  [5.2,0.13],[5.3,0.04],[5.1,-0.05],[5.2,-0.14],[5.3,-0.23],[5.1,-0.32],[5.2,-0.41],[5.3,-0.5],[5.1,-0.59],
  [6.0,0.11],[6.1,0.02],[5.9,-0.07],[6.0,-0.16],[6.1,-0.25],[5.9,-0.34],[6.0,-0.43],[6.1,-0.52],
  [6.8,0.08],[6.9,-0.01],[6.7,-0.1],[6.8,-0.19],[6.9,-0.28],[6.7,-0.37],[6.8,-0.46],[6.9,-0.55],
  [7.6,0.04],[7.7,-0.05],[7.5,-0.14],[7.6,-0.23],[7.7,-0.32],[7.5,-0.41],[7.6,-0.5],
  [8.4,0.0],[8.5,-0.09],[8.3,-0.18],[8.4,-0.27],[8.5,-0.36],[8.3,-0.45],
  [9.2,-0.05],[9.3,-0.14],[9.1,-0.23],[9.2,-0.32],[9.3,-0.41],
  [10.0,-0.12],[10.1,-0.22],[9.9,-0.32]
];

const valueSets = [txSkewValue, txImbValue, txPhaseValue, rxSkewValue, rxImbValue, rxPhaseValue];
const errorSets = [txSkewError, txImbError, txPhaseError, rxSkewError, rxImbError, rxPhaseError];

// ---- styling / layout ----
const GREEN = '#006400';
const ORANGE = '#ffa500';
const INK = '#262626';
const FONT = '"Liberation Sans", Arial, sans-serif';
const TICK_SIZE = 19;
const TITLE_SIZE = 23.5;
const DOT = 2.7;

const COL_LEFT = [79, 397, 713];   // plot area left edges
const ROW_TOP = [19, 351];         // plot area top edges
const AREA_W = 189, AREA_H = 192;
const LEFT_W = 80, RIGHT_W = 62, TOP_H = 19, BOTTOM_H = 70;

Chart.defaults.font.family = FONT;

// axis labels drawn at their natural width (Chart.js squeezes long titles to the axis length)
const outerTitles = {
  id: 'outerTitles',
  afterDraw(chart, args, opts) {
    const { ctx, chartArea: a } = chart;
    const midY = (a.top + a.bottom) / 2;
    ctx.save();
    ctx.font = `${TITLE_SIZE}px ${FONT}`;
    ctx.textAlign = 'center';
    ctx.textBaseline = 'middle';

    ctx.fillStyle = INK;
    ctx.fillText(opts.bottom, (a.left + a.right) / 2 - 3, a.bottom + 45);

    for (const [text, x, color] of [[opts.left, a.left - 55, GREEN], [opts.right, a.right + 47, ORANGE]]) {
      ctx.save();
      ctx.translate(x, midY);
      ctx.rotate(-Math.PI / 2);
      ctx.fillStyle = color;
      ctx.fillText(text, 0, 0);
      ctx.restore();
    }
    ctx.restore();
  }
};

function toPoints(pairs) {
  return pairs.map(([x, y]) => ({ x, y }));
}

const figure = document.getElementById('figure');

for (let i = 0; i < 6; i++) {
  const col = i % 3, row = Math.floor(i / 3);
  const lim = valueLimits[i], errLim = errorLimits[i];

  const canvas = document.createElement('canvas');
  canvas.width = LEFT_W + AREA_W + RIGHT_W;
  canvas.height = TOP_H + AREA_H + BOTTOM_H;
  canvas.style.left = (COL_LEFT[col] - LEFT_W) + 'px';
  canvas.style.top = (ROW_TOP[row] - TOP_H) + 'px';
  figure.appendChild(canvas);

  const caption = document.createElement('div');
  caption.className = 'caption';
  caption.textContent = captions[i];
  caption.style.left = (COL_LEFT[col] + AREA_W / 2 - 4) + 'px';
  caption.style.top = (ROW_TOP[row] + AREA_H + 81 - 12) + 'px';
  figure.appendChild(caption);

  new Chart(canvas, {
    type: 'scatter',
    data: {
      datasets: [
        {
          label: 'Monitored value',
          data: toPoints(valueSets[i]),
          xAxisID: 'x', yAxisID: 'y',
          pointBackgroundColor: GREEN, pointBorderWidth: 0, pointRadius: DOT,
          order: 0
        },
        {
          label: 'Monitored error',
          data: toPoints(errorSets[i]),
          xAxisID: 'x', yAxisID: 'y2',
          pointBackgroundColor: ORANGE, pointBorderWidth: 0, pointRadius: DOT,
          order: 1
        }
      ]
    },
    options: {
      responsive: false,
      animation: false,
      events: [],
      layout: { padding: { top: TOP_H, left: 0, right: 0, bottom: 0 } },
      plugins: {
        legend: { display: false },
        tooltip: { enabled: false },
        outerTitles: { bottom: xTitles[i], left: valueTitles[i], right: errorTitles[i] }
      },
      scales: {
        x: {
          type: 'linear', position: 'bottom', min: -lim, max: lim,
          ticks: { stepSize: lim / 2, color: INK, font: { size: TICK_SIZE }, padding: 7 },
          grid: { color: 'rgba(0,0,0,0.16)', lineWidth: 2, drawTicks: false },
          border: { color: INK, width: 1.5 },
          afterFit: s => { s.height = BOTTOM_H; }
        },
        xTop: {
          type: 'linear', position: 'top', min: -lim, max: lim,
          ticks: { display: false },
          grid: { display: false, drawTicks: false },
          border: { color: INK, width: 1.5 },
          afterFit: s => { s.height = 0; }
        },
        y: {
          type: 'linear', position: 'left', min: -lim, max: lim,
          ticks: { stepSize: lim / 2, color: GREEN, font: { size: TICK_SIZE }, padding: 7 },
          grid: { color: 'rgba(0,100,0,0.15)', lineWidth: 1.5, drawTicks: false },
          border: { color: GREEN, width: 2 },
          afterFit: s => { s.width = LEFT_W; }
        },
        y2: {
          type: 'linear', position: 'right', min: -errLim, max: errLim,
          ticks: { stepSize: errLim / 2, color: ORANGE, font: { size: TICK_SIZE }, padding: 5 },
          grid: { display: false, drawTicks: false },
          border: { color: ORANGE, width: 2 },
          afterFit: s => { s.width = RIGHT_W; }
        }
      }
    },
    plugins: [outerTitles]
  });
}
</script>
</body>
</html>
